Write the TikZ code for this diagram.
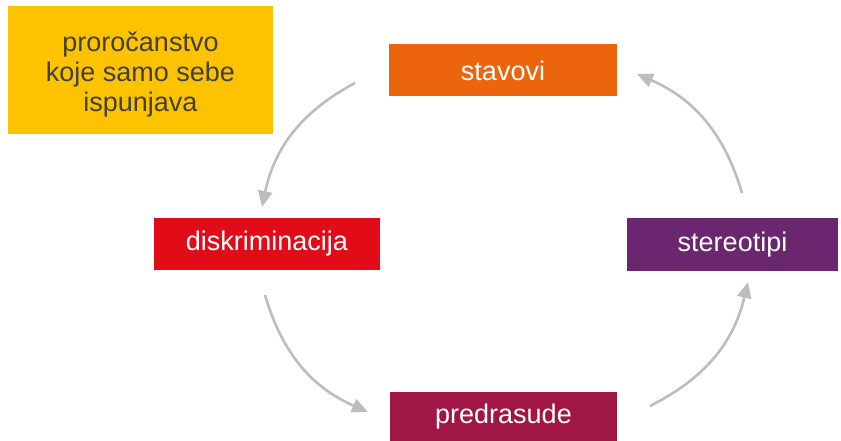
\documentclass[tikz,border=0pt]{standalone}
\usepackage{fontspec}
\setmainfont{Liberation Sans}
\usetikzlibrary{arrows.meta}
\definecolor{cyellow}{RGB}{253,195,0}
\definecolor{corange}{RGB}{236,100,12}
\definecolor{cred}{RGB}{225,12,24}
\definecolor{cpurple}{RGB}{106,38,110}
\definecolor{ccrimson}{RGB}{160,22,68}
\definecolor{cgray}{RGB}{190,188,190}
\definecolor{ctext}{RGB}{64,64,64}
\begin{document}
\begin{tikzpicture}[x=1pt,y=1pt,
  box/.style={draw=none, inner sep=0pt, text=white, font=\fontsize{27}{30}\selectfont},
  arr/.style={draw=cgray, line width=2.6pt, -{Triangle[length=16pt,width=14pt]}, bend right=25}]
\useasboundingbox (0,0) rectangle (841,-441);
\fill[cyellow] (8,-6) rectangle (273,-134);
\node[box, text=ctext, align=center] (title) at (140.5,-74) {proročanstvo\\koje samo sebe\\ispunjava};
\node[box, fill=corange, minimum width=228pt, minimum height=52pt, text depth=0pt] (stav) at (503,-70) {\raisebox{-2pt}{stavovi}};
\node[box, fill=cred, minimum width=226pt, minimum height=52pt] (disk) at (267,-244) {\raisebox{-2pt}{diskriminacija}};
\node[box, fill=cpurple, minimum width=211pt, minimum height=53pt] (ster) at (732.5,-244.5) {\raisebox{-2pt}{stereotipi}};
\node[box, fill=ccrimson, minimum width=227pt, minimum height=49pt] (pred) at (503.5,-416.5) {predrasude};
\coordinate (a1s) at (355,-83);
\coordinate (a1e) at (262,-207);
\coordinate (a2s) at (265,-295);
\coordinate (a2e) at (368,-412);
\coordinate (a3s) at (650,-406);
\coordinate (a3e) at (748,-282);
\coordinate (a4s) at (742,-193);
\coordinate (a4e) at (637,-74);
\draw[arr] (a1s) to (a1e);
\draw[arr] (a2s) to (a2e);
\draw[arr] (a3s) to (a3e);
\draw[arr] (a4s) to (a4e);
\end{tikzpicture}
\end{document}
